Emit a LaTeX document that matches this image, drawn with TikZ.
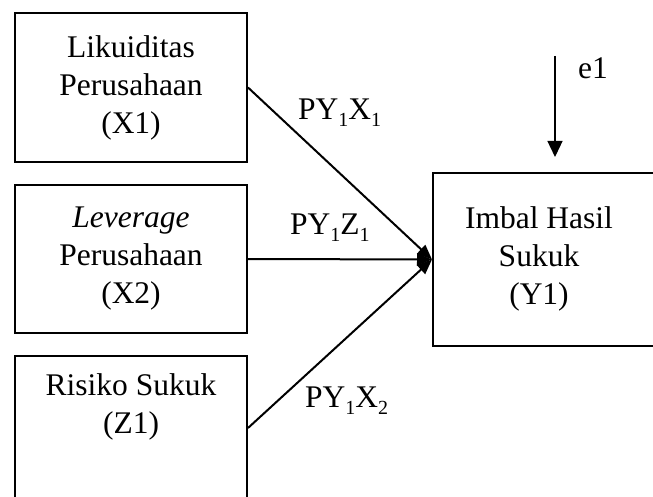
\documentclass[tikz,border=0pt]{standalone}
\usepackage{fontspec}
\setmainfont{Liberation Serif}
\usetikzlibrary{arrows.meta}
% lowered, smaller index used in the path coefficients
\newcommand\subidx[1]{\raisebox{-7pt}{\fontsize{20}{20}\selectfont#1}}
\begin{document}
\begin{tikzpicture}[x=1pt,y=-1pt,
  varbox/.style={draw, line width=2pt, align=center, inner sep=0pt,
    font=\fontsize{31.5}{38}\selectfont},
  boxtext/.style={align=center, inner sep=0pt,
    font=\fontsize{31.5}{38}\selectfont},
  pathline/.style={line width=2pt, -{Triangle[length=15pt,width=12pt]}},
  errline/.style={line width=1.3pt, -{Triangle[length=16pt,width=15pt]}},
  coef/.style={anchor=base west, inner sep=0pt,
    font=\fontsize{31.5}{38}\selectfont}]
\clip (0,0) rectangle (653,497);

% variables
\node[varbox, minimum width=232, minimum height=149] (X1) at (131,87.5)
  {Likuiditas\\Perusahaan\\(X1)};
\node[varbox, minimum width=232, minimum height=148] (X2) at (131,259)
  {\textit{Leverage}\\Perusahaan\\(X2)};
\node[varbox, minimum width=232, minimum height=144] (Z1) at (131,428)
  {Risiko Sukuk\\(Z1)\\\strut};
% the dependent variable's box runs past the right edge
\node[varbox, minimum width=224, minimum height=173] (Y1) at (545,259.5) {};
\node[boxtext] (Y1t) at (539,259) {Imbal Hasil\\Sukuk\\(Y1)};

% error term
\coordinate (e1s) at (555,56);
\coordinate (e1t) at (555,157);
\draw[errline] (e1s) -- (e1t);
\node[coef] (e1) at (578,79) {e1};

% paths
\draw[pathline] (X1.east) -- (Y1.west);
\draw[pathline] (X2.east) -- (Y1.west);
\draw[pathline] (Z1.east) -- (Y1.west);

% path coefficients
\node[coef] (pX1) at (298,120) {PY\subidx{1}X\subidx{1}};
\node[coef] (pZ1) at (290,234) {PY\subidx{1}Z\subidx{1}};
\node[coef] (pX2) at (305,407) {PY\subidx{1}X\subidx{2}};
\end{tikzpicture}
\end{document}
